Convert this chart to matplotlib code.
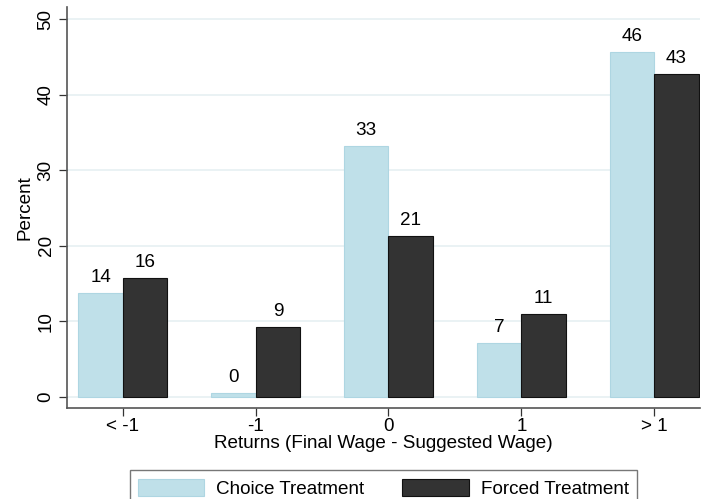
import numpy as np
import matplotlib.pyplot as plt

plt.rcParams['font.family'] = ['Liberation Sans', 'DejaVu Sans']

categories = ["< -1", "-1", "0", "1", "> 1"]
choice = [13.7, 0.5, 33.2, 7.1, 45.7]
forced = [15.8, 9.3, 21.3, 11.0, 42.7]
labels_choice = ["14", "0", "33", "7", "46"]
labels_forced = ["16", "9", "21", "11", "43"]

fs = 13.6

fig = plt.figure(figsize=(7.01, 4.99), dpi=100)
ax = fig.add_axes([0.0956, 0.1824, 0.903, 0.8036])

x = np.arange(len(categories))
w = 0.335
b1 = ax.bar(x - w / 2, choice, w, color="#bfe0e9", edgecolor="#aed6e2", linewidth=0.8,
            label="Choice Treatment", zorder=3)
b2 = ax.bar(x + w / 2, forced, w, color="#333333", edgecolor="#111111", linewidth=0.8,
            label="Forced Treatment", zorder=3)

for bars, labs in [(b1, labels_choice), (b2, labels_forced)]:
    for r, t in zip(bars, labs):
        ax.annotate(t, (r.get_x() + r.get_width() / 2, r.get_height()),
                    xytext=(0, 5), textcoords="offset points",
                    ha="center", va="bottom", fontsize=fs)

ax.set_xlim(-0.42, 4.345)
ax.set_ylim(-1.46, 51.6)
ax.set_yticks([0, 10, 20, 30, 40, 50])
ax.set_xticks(x)
ax.set_xticklabels(categories)
for lab in ax.get_yticklabels():
    lab.set_rotation(90)
    lab.set_va("center")
ax.tick_params(axis="both", labelsize=fs, color="#333333", length=6, width=0.9)
ax.tick_params(axis="x", pad=1)
ax.tick_params(axis="y", pad=3)
ax.yaxis.grid(True, color="#e6f0f2", linewidth=1.2, zorder=0)
ax.set_axisbelow(True)

for s in ["top", "right"]:
    ax.spines[s].set_visible(False)
for s in ["left", "bottom"]:
    ax.spines[s].set_color("#555555")
    ax.spines[s].set_linewidth(1.2)

ax.set_ylabel("Percent", fontsize=fs, labelpad=3)
ax.set_xlabel("Returns (Final Wage - Suggested Wage)", fontsize=fs, labelpad=0)

leg = fig.legend(handles=[b1, b2], loc="upper center", bbox_to_anchor=(0.547, 0.077),
                 ncol=2, fontsize=fs, frameon=True, fancybox=False, edgecolor="#555555",
                 handlelength=3.5, handleheight=1.05, columnspacing=2.0,
                 borderpad=0.45, handletextpad=0.65)
leg.get_frame().set_linewidth(1.0)

fig.savefig("out.png", dpi=100)
